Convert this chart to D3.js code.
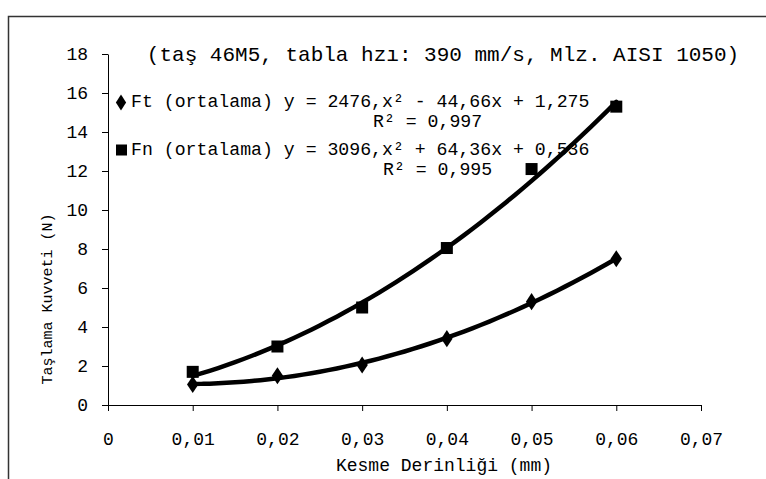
<!DOCTYPE html>
<html><head><meta charset="utf-8">
<script src="https://cdn.jsdelivr.net/npm/d3@7"></script>
<style>
html,body{margin:0;padding:0;background:#fff;}
text{font-family:"Liberation Mono","Courier New",monospace;fill:#000;}
</style></head>
<body>
<svg id="chart" width="766" height="479"></svg>
<script>
const xValues = [0.01, 0.02, 0.03, 0.04, 0.05, 0.06];
const ftValues = [1.05, 1.5, 2.05, 3.4, 5.3, 7.5];
const fnValues = [1.7, 3.0, 5.0, 8.05, 12.1, 15.3];
const ftCoef = [2476, -44.66, 1.275];
const fnCoef = [3096, 64.36, 0.536];
const xTicks = [0, 0.01, 0.02, 0.03, 0.04, 0.05, 0.06, 0.07];
const yTicks = [0, 2, 4, 6, 8, 10, 12, 14, 16, 18];
const titleText = "(taş 46M5, tabla hzı: 390 mm/s, Mlz. AISI 1050)";
const ftLegend = "Ft (ortalama) y = 2476,x² - 44,66x + 1,275";
const ftR2 = "R² = 0,997";
const fnLegend = "Fn (ortalama) y = 3096,x² + 64,36x + 0,536";
const fnR2 = "R² = 0,995";
const xLabel = "Kesme Derinliği (mm)";
const yLabel = "Taşlama Kuvveti (N)";

const svg = d3.select("#chart");
// outer border
svg.append("path").attr("d","M8.5,479 V16.5 H766").attr("fill","none").attr("stroke","#333").attr("stroke-width",1.5);

const x = d3.scaleLinear().domain([0,0.07]).range([108,701]);
const y = d3.scaleLinear().domain([0,18]).range([405,54]);
const fmt = d => d===0 ? "0" : d3.format(".2f")(d).replace(".", ",");

const xAxis = svg.append("g").attr("transform","translate(0,405)")
  .call(d3.axisBottom(x).tickValues(xTicks).tickFormat(fmt).tickSize(6).tickPadding(21).tickSizeOuter(0));
const yAxis = svg.append("g").attr("transform","translate(108,0)")
  .call(d3.axisLeft(y).tickValues(yTicks).tickFormat(d=>d).tickSize(6).tickPadding(14).tickSizeOuter(0));
[xAxis,yAxis].forEach(g=>{
  g.select(".domain").attr("stroke","#000");
  g.selectAll(".tick line").attr("stroke","#000");
  g.selectAll(".tick text").style("font-family",'"Liberation Mono",monospace').style("font-size","18px").attr("fill","#000");
});

// trend lines from the fitted coefficients shown in the legend
function trend(c){
  const xs = d3.range(0,51).map(i => xValues[0] + (xValues[xValues.length-1]-xValues[0])*i/50);
  return xs.map(v => [v, c[0]*v*v + c[1]*v + c[2]]);
}
const line = d3.line().x(d=>x(d[0])).y(d=>y(d[1])).curve(d3.curveMonotoneX);
[ftCoef, fnCoef].forEach(c=>{
  svg.append("path").attr("d", line(trend(c))).attr("fill","none").attr("stroke","#000").attr("stroke-width",4.5).attr("stroke-linecap","round");
});

// markers
svg.append("g").selectAll("path").data(xValues).join("path")
  .attr("d", d3.symbol().type(d3.symbolDiamond).size(85))
  .attr("transform",(d,i)=>`translate(${x(d)},${y(ftValues[i])}) scale(1.15,1)`)
  .attr("fill","#000");
svg.append("g").selectAll("rect").data(xValues).join("rect")
  .attr("x",d=>x(d)-6).attr("y",(d,i)=>y(fnValues[i])-6)
  .attr("width",12).attr("height",12).attr("fill","#000");

// title
svg.append("text").attr("x",443).attr("y",61).attr("text-anchor","middle")
  .style("font-size","21px").text(titleText);

// legend
svg.append("path").attr("d", d3.symbol().type(d3.symbolDiamond).size(75)())
  .attr("transform","translate(121,102.5) scale(1.1,1)").attr("fill","#000");
svg.append("rect").attr("x",116).attr("y",144.5).attr("width",11).attr("height",11).attr("fill","#000");
svg.append("text").attr("x",131).attr("y",107).style("font-size","18.2px").text(ftLegend);
svg.append("text").attr("x",373).attr("y",127).style("font-size","18.2px").text(ftR2);
svg.append("text").attr("x",131).attr("y",155).style("font-size","18.2px").text(fnLegend);
svg.append("text").attr("x",383).attr("y",175).style("font-size","18.2px").text(fnR2);

// axis labels
svg.append("text").attr("x",444).attr("y",471).attr("text-anchor","middle")
  .style("font-size","18px").text(xLabel);
svg.append("text").attr("transform","translate(52,299) rotate(-90)").attr("text-anchor","middle")
  .style("font-size","15px").text(yLabel);
</script>
</body></html>
